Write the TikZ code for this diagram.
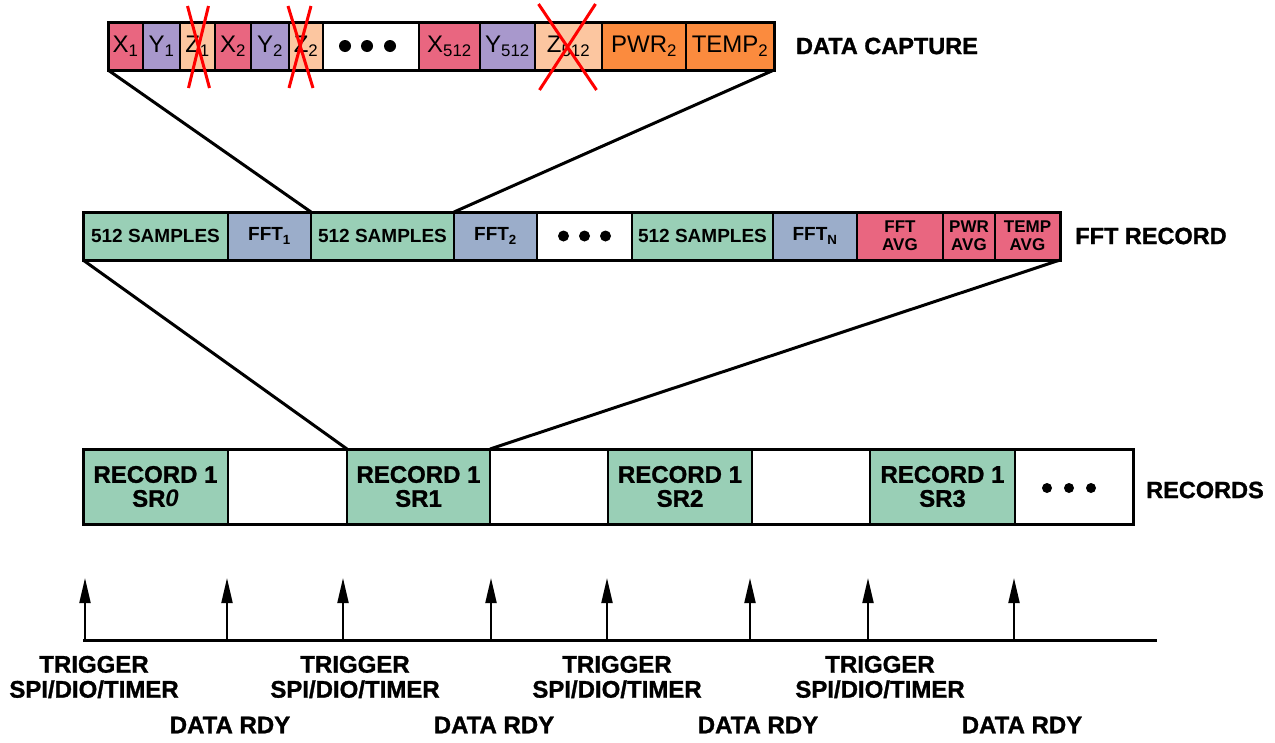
\documentclass[tikz,border=0pt]{standalone}
\usepackage{fontspec}
\setmainfont{Liberation Sans}
\newfontfamily\heavyfont[UprightFont={* Bold}, FakeBold=1.2]{Liberation Sans}
\usetikzlibrary{arrows.meta}

\definecolor{xpink}{RGB}{233,102,128}
\definecolor{ylilac}{RGB}{168,152,204}
\definecolor{zpeach}{RGB}{252,198,160}
\definecolor{auxorange}{RGB}{251,139,62}
\definecolor{sampgreen}{RGB}{153,207,182}
\definecolor{fftblue}{RGB}{155,173,202}

\newcommand{\capfont}{\fontsize{24}{26}\selectfont}
\newcommand{\fftfont}{\fontsize{19}{20}\selectfont\bfseries}
\newcommand{\avgfont}{\fontsize{17}{18}\selectfont\bfseries}
\newcommand{\recfont}{\heavyfont\fontsize{24}{24}\selectfont}
\newcommand{\tagfont}{\heavyfont\fontsize{24}{25}\selectfont}
\newcommand{\titlefont}{\heavyfont\fontsize{23.5}{26}\selectfont}

\begin{document}
\begin{tikzpicture}[x=1pt, y=-1pt,
    cell/.style={draw, line width=2pt, fill=#1, minimum height=48pt, inner sep=0pt, outer sep=0pt, anchor=west},
    frame/.style={line width=3pt},
    link/.style={line width=3pt},
    strike/.style={red, line width=3pt},
    tick/.style={line width=2pt, -{Triangle[length=25pt, width=11pt]}},
    axis/.style={line width=3pt},
    tag/.style={font=\tagfont, align=center, inner sep=0pt},
    title/.style={font=\titlefont, inner sep=0pt}
]
    \useasboundingbox (0,0) rectangle (1275,742);

    % Row 1 - Data capture
    \node[cell=xpink, minimum width=35pt, font=\capfont] (x1) at (108,46) {X\textsubscript{1}};
    \node[cell=ylilac, minimum width=37pt, font=\capfont] (y1) at (143,46) {Y\textsubscript{1}};
    \node[cell=zpeach, minimum width=35pt, font=\capfont] (z1) at (180,46) {Z\textsubscript{1}};
    \node[cell=xpink, minimum width=36pt, font=\capfont] (x2) at (215,46) {X\textsubscript{2}};
    \node[cell=ylilac, minimum width=38pt, font=\capfont] (y2) at (251,46) {Y\textsubscript{2}};
    \node[cell=zpeach, minimum width=34pt, font=\capfont] (z2) at (289,46) {Z\textsubscript{2}};
    \node[cell=white, minimum width=96pt] (dots1) at (323,46) {};
    \node[cell=xpink, minimum width=61pt, font=\capfont] (xn) at (419,46) {X\textsubscript{512}};
    \node[cell=ylilac, minimum width=55pt, font=\capfont] (yn) at (480,46) {Y\textsubscript{512}};
    \node[cell=zpeach, minimum width=67pt, font=\capfont] (zn) at (535,46) {Z\textsubscript{512}};
    \node[cell=auxorange, minimum width=84pt, font=\capfont] (pwr) at (602,46) {PWR\textsubscript{2}};
    \node[cell=auxorange, minimum width=88pt, font=\capfont] (temp) at (686,46) {TEMP\textsubscript{2}};
    \draw[frame] (x1.north west) rectangle (temp.south east);
    \foreach \d in {-26,-4,19} \fill ([xshift=\d pt]dots1.center) circle (6pt);
    \node[title] (captlbl) at (887,46) {DATA CAPTURE};

    % Z samples crossed out
    \draw[strike] ([shift={(-10,-40)}]z1.center) -- ([shift={(12,42)}]z1.center)
                  ([shift={(11,-40)}]z1.center) -- ([shift={(-9,42)}]z1.center);
    \draw[strike] ([shift={(-18,-40)}]z2.center) -- ([shift={(7,42)}]z2.center)
                  ([shift={(5,-40)}]z2.center) -- ([shift={(-17,42)}]z2.center);
    \draw[strike] ([shift={(-30,-42)}]zn.center) -- ([shift={(28,44)}]zn.center)
                  ([shift={(27,-42)}]zn.center) -- ([shift={(-29,44)}]zn.center);

    % Row 2 - FFT record
    \node[cell=sampgreen, minimum width=145pt, font=\fftfont] (samp1) at (83,236) {512 SAMPLES};
    \node[cell=fftblue, minimum width=83pt, font=\fftfont] (fft1) at (228,236) {FFT\textsubscript{1}};
    \node[cell=sampgreen, minimum width=143pt, font=\fftfont] (samp2) at (311,236) {512 SAMPLES};
    \node[cell=fftblue, minimum width=83pt, font=\fftfont] (fft2) at (454,236) {FFT\textsubscript{2}};
    \node[cell=white, minimum width=95pt] (dots2) at (537,236) {};
    \node[cell=sampgreen, minimum width=141pt, font=\fftfont] (sampn) at (632,236) {512 SAMPLES};
    \node[cell=fftblue, minimum width=84pt, font=\fftfont] (fftn) at (773,236) {FFT\textsubscript{N}};
    \node[cell=xpink, minimum width=86pt, font=\avgfont, align=center] (fftavg) at (857,236) {FFT\\AVG};
    \node[cell=xpink, minimum width=52pt, font=\avgfont, align=center] (pwravg) at (943,236) {PWR\\AVG};
    \node[cell=xpink, minimum width=65pt, font=\avgfont, align=center] (tempavg) at (995,236) {TEMP\\AVG};
    \draw[frame] (samp1.north west) rectangle (tempavg.south east);
    \foreach \d in {-21,0,21} \fill ([xshift=\d pt]dots2.center) circle (5.5pt);
    \node[title] (fftlbl) at (1151,236) {FFT RECORD};

    % Row 3 - Records
    \node[cell=sampgreen, minimum width=145pt, minimum height=75pt, font=\recfont, align=center] (rec0) at (83,486.5) {RECORD 1\\SR{\fontspec{Liberation Sans}[BoldFont={* Bold}]\bfseries\itshape 0}};
    \node[cell=white, minimum width=119pt, minimum height=75pt] (gap0) at (228,486.5) {};
    \node[cell=sampgreen, minimum width=143pt, minimum height=75pt, font=\recfont, align=center] (rec1) at (347,486.5) {RECORD 1\\SR1};
    \node[cell=white, minimum width=118pt, minimum height=75pt] (gap1) at (490,486.5) {};
    \node[cell=sampgreen, minimum width=144pt, minimum height=75pt, font=\recfont, align=center] (rec2) at (608,486.5) {RECORD 1\\SR2};
    \node[cell=white, minimum width=118pt, minimum height=75pt] (gap2) at (752,486.5) {};
    \node[cell=sampgreen, minimum width=145pt, minimum height=75pt, font=\recfont, align=center] (rec3) at (870,486.5) {RECORD 1\\SR3};
    \node[cell=white, minimum width=118pt, minimum height=75pt] (dots3) at (1015,486.5) {};
    \draw[frame] (rec0.north west) rectangle (dots3.south east);
    \foreach \d in {-27,-5,17} \fill ([shift={(\d,1.5)}]dots3.center) circle (5pt);
    \node[title] (reclbl) at (1205,490) {RECORDS};

    % Zoom lines between rows
    \draw[link] (x1.south west) -- (samp2.north west);
    \draw[link] (temp.south east) -- (samp2.north east);
    \draw[link] (samp1.south west) -- (rec1.north west);
    \draw[link] (tempavg.south east) -- (rec1.north east);

    % Timeline
    \coordinate (tstart) at (83,640);
    \coordinate (tend) at (1157,640);
    \draw[axis] (tstart) -- (tend);
    \foreach \x [count=\i] in {85,227,343,491,607,750,868,1014} {
        \coordinate (base\i) at (\x,640);
        \coordinate (tip\i) at (\x,578);
        \draw[tick] (base\i) -- (tip\i);
    }
    \node[tag] (trig1) at (94,677) {TRIGGER\\SPI/DIO/TIMER};
    \node[tag] (trig2) at (355,677) {TRIGGER\\SPI/DIO/TIMER};
    \node[tag] (trig3) at (617,677) {TRIGGER\\SPI/DIO/TIMER};
    \node[tag] (trig4) at (880,677) {TRIGGER\\SPI/DIO/TIMER};
    \node[tag] (rdy1) at (230,725) {DATA RDY};
    \node[tag] (rdy2) at (494,725) {DATA RDY};
    \node[tag] (rdy3) at (758,725) {DATA RDY};
    \node[tag] (rdy4) at (1022,725) {DATA RDY};
\end{tikzpicture}
\end{document}
